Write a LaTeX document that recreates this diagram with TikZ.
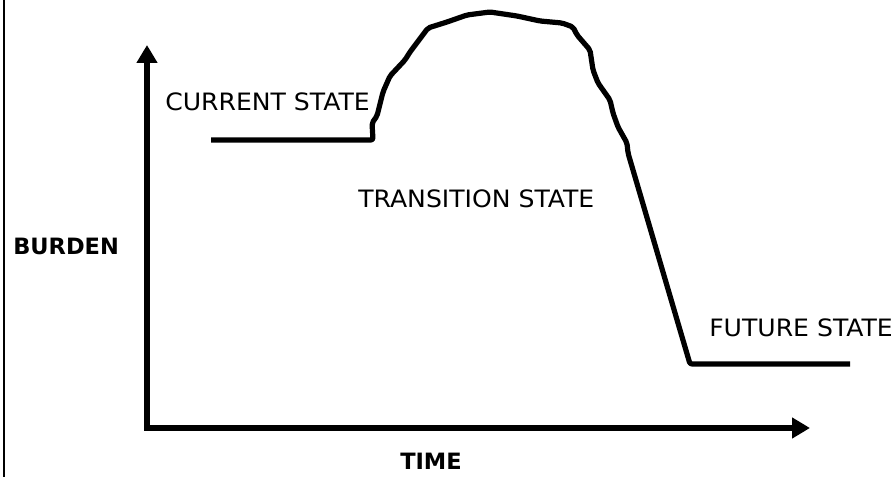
\documentclass[tikz,border=0pt]{standalone}
\usepackage{fontspec}
\setmainfont{DejaVu Sans}
\newfontfamily\widefont[FakeStretch=1.05]{DejaVu Sans}
\usepackage{tikz}
\usetikzlibrary{arrows.meta, positioning, calc}
\definecolor{myink}{RGB}{0,0,0}
\tikzset{
  axis/.style={line width=4.3pt, color=myink, line join=miter,
    {Triangle[length=0.45cm, width=0.5cm]}-{Triangle[length=0.45cm, width=0.5cm]}},
  burden/.style={line width=3.7pt, color=myink, line join=round, line cap=butt, rounded corners=1.5pt},
  edge/.style={line width=1.4pt, color=myink},
  statelabel/.style={anchor=base west, inner sep=0pt, font=\widefont\fontsize{17}{20}\selectfont},
  axislabel/.style={anchor=base west, inner sep=0pt, font=\fontsize{16}{19}\selectfont\bfseries}
}
\begin{document}
\begin{tikzpicture}[x=0.025cm, y=-0.025cm]
  \useasboundingbox (0,0) rectangle (896,477);

  % Left border
  \coordinate (bordertop) at (4,0);
  \coordinate (borderbot) at (4,477);
  \draw[edge] (bordertop) -- (borderbot);

  % Axes
  \coordinate (ytip) at (147,45);
  \coordinate (origin) at (147,428);
  \coordinate (xtip) at (810,428);
  \draw[axis] (ytip) -- (origin) -- (xtip);

  % Axis labels
  \node[axislabel] (burdenlbl) at (13,255) {BURDEN};
  \node[axislabel] (timelbl) at (400,470) {TIME};

  % Burden curve
  \coordinate (curstart) at (211,140);
  \coordinate (curend) at (373,140);
  \coordinate (peakend) at (628,153);
  \coordinate (futstart) at (690,364);
  \coordinate (futend) at (850,364);
  \draw[burden] (curstart) -- (curend) -- (372,123) -- (377,116) -- (383,92)
    -- (390,76) -- (405,60) -- (410,52) -- (428,28) -- (447,22) -- (467,15)
    -- (490,12) -- (517,16) -- (540,21) -- (562,23) -- (573,27) -- (577,35)
    -- (590,50) -- (593,70) -- (598,83) -- (610,100) -- (613,113) -- (618,127)
    -- (627,143) -- (peakend) -- (futstart) -- (futend);

  % State labels
  \node[statelabel] (current) at (165,111) {CURRENT STATE};
  \node[statelabel] (transition) at (358,208) {TRANSITION STATE};
  \node[statelabel] (future) at (709,337) {FUTURE STATE};
\end{tikzpicture}
\end{document}
